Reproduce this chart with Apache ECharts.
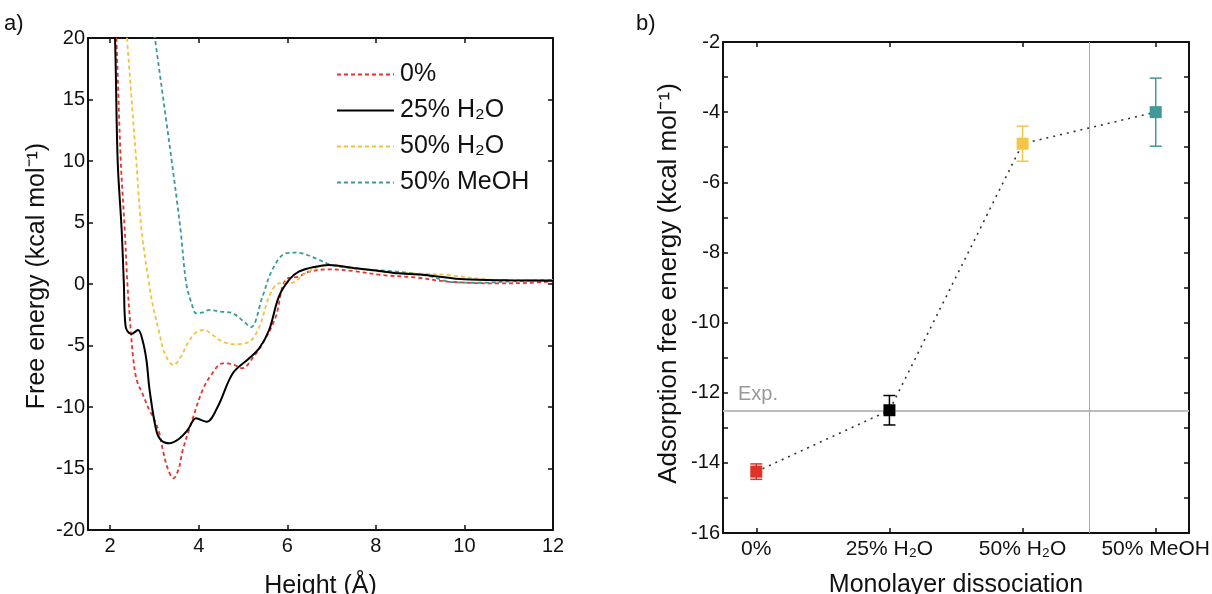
<!DOCTYPE html>
<html><head><meta charset="utf-8">
<script src="https://cdn.jsdelivr.net/npm/echarts@6/dist/echarts.min.js"></script>
<style>html,body{margin:0;padding:0;background:#fff}#c{width:1212px;height:594px}</style>
</head><body><div id="c"></div>
<script>
// ---- Panel a: free energy profiles ----
const seriesNames = ['0%', '25% H\u2082O', '50% H\u2082O', '50% MeOH'];
const redX   = [2.08,2.14,2.24,2.33,2.39,2.46,2.52,2.6,2.74,2.89,2.97,3.1,3.19,3.3,3.43,3.55,3.64,3.83,4.09,4.3,4.54,4.75,4.99,5.2,5.45,5.74,5.96,6.26,6.49,6.94,7.5,8.13,8.88,9.63,10.76,11.5,12];
const redY   = [24,20,10,4.4,0,-3.5,-6.0,-7.8,-9.0,-10.3,-10.8,-12.0,-13.5,-15.0,-15.8,-15.0,-13.5,-11.33,-8.6,-7.3,-6.45,-6.5,-6.85,-6.1,-4.8,-2.66,0.33,0.6,1.0,1.19,1.05,0.73,0.54,0.19,0.05,0.1,0.22];
const blackX = [2.05,2.11,2.17,2.26,2.31,2.35,2.48,2.63,2.73,2.82,2.89,3.04,3.15,3.34,3.55,3.75,3.94,4.18,4.43,4.77,5.14,5.37,5.59,5.81,6.04,6.26,6.64,6.94,7.5,8.0,8.51,9.2,10.0,11.0,12];
const blackY = [24,20,10,4.4,0,-3.47,-4.07,-3.74,-4.55,-6.2,-8.6,-11.87,-12.7,-12.95,-12.6,-11.87,-10.92,-11.2,-9.98,-7.26,-6.04,-5.2,-3.74,-1.03,0.33,1.0,1.41,1.54,1.3,1.1,0.87,0.7,0.38,0.3,0.27];
const yellowX = [2.3,2.38,2.59,2.71,2.88,2.97,3.1,3.23,3.43,3.6,3.75,3.95,4.13,4.3,4.47,4.77,5.14,5.37,5.59,5.81,6.11,6.41,6.71,7.01,7.5,8.13,9.0,9.63,10.76,12];
const yellowY = [24,20,10,4.39,0,-1.85,-3.8,-5.63,-6.59,-5.9,-4.82,-3.9,-3.74,-4.1,-4.55,-4.9,-4.69,-3.47,-1.03,0.05,0.1,0.87,1.4,1.54,1.3,1.0,0.85,0.73,0.33,0.33];
const tealX = [2.93,3.01,3.39,3.59,3.72,3.85,3.94,4.1,4.24,4.5,4.77,5.0,5.18,5.44,5.66,5.96,6.19,6.34,6.64,7.01,7.7,8.51,9.26,9.63,10.38,11.0,11.88,12];
const tealY = [22,20,10,4.39,0,-1.7,-2.38,-2.3,-2.11,-2.25,-2.38,-3.0,-3.5,-1.03,1.14,2.49,2.55,2.49,2.09,1.54,1.2,1.0,0.6,0.19,0.1,0.2,0.33,0.33];
const heightTicks = [2,4,6,8,10,12];

// ---- Panel b: adsorption free energy ----
const categories = ['0%', '25% H\u2082O', '50% H\u2082O', '50% MeOH'];
const adsValues = [-14.25, -12.5, -4.9, -4.0];
const adsErrors = [0.22, 0.42, 0.5, 0.97];
const expValue = -12.5;
const pointColors = ['#dd3328', '#000000', '#f5c547', '#3f9a98'];

function pairs(xs, ys){ return xs.map((x,i)=>[x, ys[i]]); }

const chart = echarts.init(document.getElementById('c'));
const FONT = 'Liberation Sans, Arial, sans-serif';
const txt = {color:'#111', fontFamily:FONT};

const lineColors = ['#e8342c', '#000000', '#f5c23e', '#3a9a9a'];
const lineData = [pairs(redX,redY), pairs(blackX,blackY), pairs(yellowX,yellowY), pairs(tealX,tealY)];

const series = [];
seriesNames.forEach((n,i)=>{
  series.push({
    name:n, type:'line', xAxisIndex:0, yAxisIndex:0, data:lineData[i],
    showSymbol:false, symbol:'none', smooth:0.35, clip:true,
    lineStyle:{color:lineColors[i], width: i===1?2:1.8, type: i===1?'solid':[4,3]},
    itemStyle:{color:lineColors[i]}, z: i===1?4:3
  });
});

// reference lines in panel b
series.push({
  type:'line', xAxisIndex:2, yAxisIndex:2, data:[], silent:true,
  markLine:{silent:true, symbol:'none', label:{show:false},
    data:[
      {yAxis:expValue, lineStyle:{color:'#bdbdbd', width:2, type:'solid'}},
      {xAxis:2.5, lineStyle:{color:'#a8a8a8', width:1, type:'solid'}}
    ]}
});
// dotted connector
series.push({
  type:'line', xAxisIndex:2, yAxisIndex:2, data:adsValues.map((v,i)=>[i,v]),
  symbol:'none', lineStyle:{color:'#333', width:1.6, type:[2,5]}, z:2
});
// error bars
series.push({
  type:'custom', xAxisIndex:2, yAxisIndex:2,
  data:adsValues.map((v,i)=>[i, v-adsErrors[i], v+adsErrors[i]]),
  renderItem:function(params, api){
    const i = params.dataIndex;
    const lo = api.coord([api.value(0), api.value(1)]);
    const hi = api.coord([api.value(0), api.value(2)]);
    const w = 6;
    const st = {stroke: pointColors[i], lineWidth:1.5};
    return {type:'group', children:[
      {type:'line', shape:{x1:lo[0],y1:lo[1],x2:hi[0],y2:hi[1]}, style:st},
      {type:'line', shape:{x1:lo[0]-w,y1:lo[1],x2:lo[0]+w,y2:lo[1]}, style:st},
      {type:'line', shape:{x1:hi[0]-w,y1:hi[1],x2:hi[0]+w,y2:hi[1]}, style:st}
    ]};
  }, z:3
});
// markers
series.push({
  type:'scatter', xAxisIndex:2, yAxisIndex:2,
  data:adsValues.map((v,i)=>({value:[i,v], itemStyle:{color:pointColors[i], opacity:1}})),
  symbol:'rect', symbolSize:12, itemStyle:{opacity:1}, z:5
});

const axLine = {show:true, onZero:false, lineStyle:{color:'#111', width:2}};
const tickIn = {show:true, inside:true, length:5, lineStyle:{color:'#111', width:1.5}};

const option = {
  animation:false,
  backgroundColor:'#fff',
  textStyle:{fontFamily:FONT},
  grid:[
    {left:88, top:38, width:465, height:492, outerBoundsMode:'none', containLabel:false},
    {left:723, top:42, width:466, height:491, outerBoundsMode:'none', containLabel:false}
  ],
  legend:{
    data:seriesNames, orient:'vertical', left:331, top:57, itemWidth:57, itemHeight:14, itemGap:11,
    itemStyle:{opacity:0},
    textStyle:{fontSize:25, color:'#111', fontFamily:FONT, padding:[0,0,0,1]}, selectedMode:false
  },
  xAxis:[
    {gridIndex:0, type:'value', min:1.5, max:12, position:'bottom',
     name:'Height (\u00c5)', nameLocation:'middle', nameGap:44, nameTextStyle:Object.assign({fontSize:25},txt),
     axisLine:axLine, axisTick:Object.assign({customValues:heightTicks},tickIn),
     axisLabel:Object.assign({customValues:heightTicks, fontSize:20, margin:6},txt), splitLine:{show:false}},
    {gridIndex:0, type:'value', min:1.5, max:12, position:'top',
     axisLine:axLine, axisTick:Object.assign({customValues:heightTicks},tickIn), axisLabel:{show:false}, splitLine:{show:false}},
    {gridIndex:1, type:'value', min:-0.25, max:3.25, position:'bottom',
     name:'Monolayer dissociation', nameLocation:'middle', nameGap:40, nameTextStyle:Object.assign({fontSize:25},txt),
     axisLine:axLine, axisTick:Object.assign({customValues:[0,1,2,3]},tickIn),
     axisLabel:Object.assign({customValues:[0,1,2,3], fontSize:21, margin:6, formatter:v=>categories[Math.round(v)]},txt), splitLine:{show:false}},
    {gridIndex:1, type:'value', min:-0.25, max:3.25, position:'top',
     axisLine:axLine, axisTick:Object.assign({customValues:[0,1,2,3]},tickIn), axisLabel:{show:false}, splitLine:{show:false}}
  ],
  yAxis:[
    {gridIndex:0, type:'value', min:-20, max:20, interval:5, position:'left',
     name:'Free energy (kcal mol\u207b\u00b9)', nameLocation:'middle', nameGap:38,
     nameTextStyle:Object.assign({fontSize:25, padding:[0,0,0,16]},txt),
     axisLine:axLine, axisTick:tickIn, axisLabel:Object.assign({fontSize:20, margin:3},txt), splitLine:{show:false}},
    {gridIndex:0, type:'value', min:-20, max:20, interval:5, position:'right',
     axisLine:axLine, axisTick:tickIn, axisLabel:{show:false}, splitLine:{show:false}},
    {gridIndex:1, type:'value', min:-16, max:-2, interval:1, position:'left',
     name:'Adsorption free energy (kcal mol\u207b\u00b9)', nameLocation:'middle', nameGap:41,
     nameTextStyle:Object.assign({fontSize:26, padding:[0,0,0,8]},txt),
     axisLine:axLine, axisTick:tickIn,
     axisLabel:Object.assign({fontSize:20, margin:3, formatter:v=>(Math.round(v)%2===0?String(v):'')},txt), splitLine:{show:false}},
    {gridIndex:1, type:'value', min:-16, max:-2, interval:1, position:'right',
     axisLine:axLine, axisTick:tickIn, axisLabel:{show:false}, splitLine:{show:false}}
  ],
  graphic:[
    {type:'text', left:4, top:13, style:{text:'a)', fontSize:22, fill:'#111', fontFamily:FONT}},
    {type:'text', left:636, top:13, style:{text:'b)', fontSize:22, fill:'#111', fontFamily:FONT}},
    {type:'text', left:738, top:384, style:{text:'Exp.', fontSize:20, fill:'#999', fontFamily:FONT}}
  ],
  series:series
};
chart.setOption(option);
</script>
</body></html>
